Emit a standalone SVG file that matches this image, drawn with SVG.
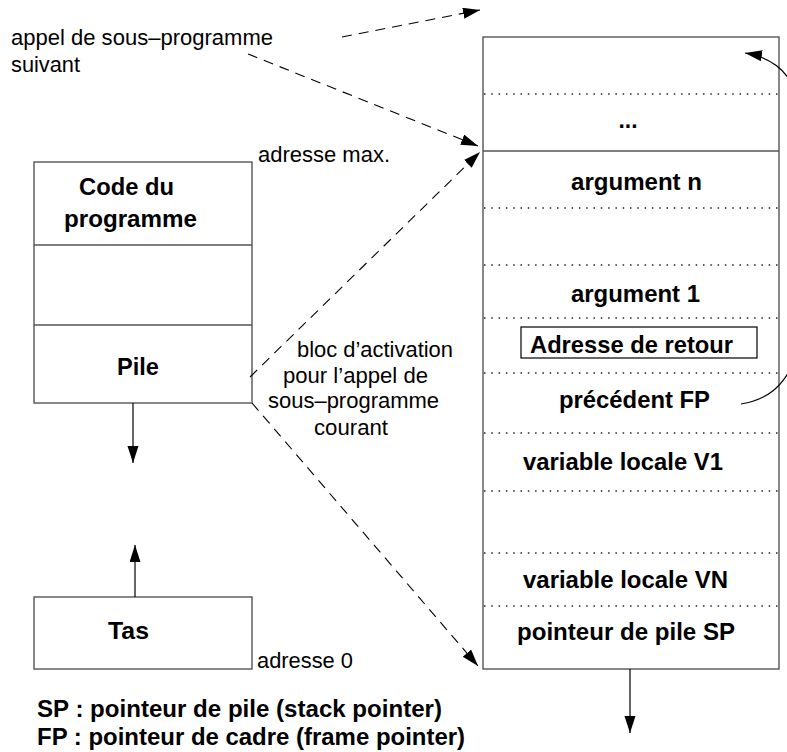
<svg xmlns="http://www.w3.org/2000/svg" width="787" height="752" viewBox="0 0 787 752">
<style>
.box{fill:#fff;stroke:#555;stroke-width:1.4}
.sep{stroke:#555;stroke-width:1.4}
.dot{stroke:#222;stroke-width:1.3;stroke-dasharray:1.5 5.8}
.r{font-family:"Liberation Sans",Arial,sans-serif;font-size:22px;fill:#000}
.b{font-family:"Liberation Sans",Arial,sans-serif;font-size:24px;font-weight:bold;fill:#000}
.m{text-anchor:middle}
.arr{fill:none;stroke:#000;stroke-width:1.2}
.dash{fill:none;stroke:#000;stroke-width:1.1;stroke-dasharray:10 7}
</style>
<defs>
<marker id="ah" markerUnits="userSpaceOnUse" markerWidth="18" markerHeight="12" refX="17" refY="5.5" orient="auto">
<path d="M0,0 L17,5.5 L0,11 Z" fill="#000"/>
</marker>
</defs>

<g id="memory">
<rect class="box" x="34" y="162" width="218" height="241"/>
<line class="sep" x1="34" y1="245" x2="252" y2="245"/>
<line class="sep" x1="34" y1="325" x2="252" y2="325"/>
<text class="b m" x="126.5" y="195" textLength="95" lengthAdjust="spacingAndGlyphs">Code du</text>
<text class="b m" x="130.5" y="227" textLength="133" lengthAdjust="spacingAndGlyphs">programme</text>
<text class="b m" x="138" y="375" textLength="42" lengthAdjust="spacingAndGlyphs">Pile</text>
</g>

<g id="tas">
<rect class="box" x="34" y="597" width="218" height="72"/>
<text class="b m" x="128.5" y="639" textLength="41" lengthAdjust="spacingAndGlyphs">Tas</text>
</g>

<g id="stack">
<rect class="box" x="483" y="37" width="296" height="632"/>
<line class="sep" x1="483" y1="151" x2="779" y2="151"/>
<line class="dot" x1="484" y1="94" x2="778" y2="94"/>
<line class="dot" x1="484" y1="208" x2="778" y2="208"/>
<line class="dot" x1="484" y1="265" x2="778" y2="265"/>
<line class="dot" x1="484" y1="318" x2="778" y2="318"/>
<line class="dot" x1="484" y1="373" x2="778" y2="373"/>
<line class="dot" x1="484" y1="433" x2="778" y2="433"/>
<line class="dot" x1="484" y1="491" x2="778" y2="491"/>
<line class="dot" x1="484" y1="553" x2="778" y2="553"/>
<line class="dot" x1="484" y1="606" x2="778" y2="606"/>
<text class="b m" x="628" y="128" textLength="19" lengthAdjust="spacingAndGlyphs">...</text>
<text class="b m" x="636.5" y="190" textLength="131" lengthAdjust="spacingAndGlyphs">argument n</text>
<text class="b m" x="635.5" y="302" textLength="129" lengthAdjust="spacingAndGlyphs">argument 1</text>
<rect x="521" y="327" width="236" height="31" fill="none" stroke="#000" stroke-width="1.2"/>
<text class="b m" x="631.5" y="353" textLength="203" lengthAdjust="spacingAndGlyphs">Adresse de retour</text>
<text class="b m" x="634.5" y="408" textLength="151" lengthAdjust="spacingAndGlyphs">précédent FP</text>
<text class="b m" x="623" y="470" textLength="200" lengthAdjust="spacingAndGlyphs">variable locale V1</text>
<text class="b m" x="625.5" y="588" textLength="205" lengthAdjust="spacingAndGlyphs">variable locale VN</text>
<text class="b m" x="626" y="640" textLength="218" lengthAdjust="spacingAndGlyphs">pointeur de pile SP</text>
</g>

<g id="labels">
<text class="r" x="11" y="45" textLength="262" lengthAdjust="spacingAndGlyphs">appel de sous–programme</text>
<text class="r" x="11" y="72" textLength="69" lengthAdjust="spacingAndGlyphs">suivant</text>
<text class="r" x="258" y="162" textLength="132" lengthAdjust="spacingAndGlyphs">adresse max.</text>
<text class="r" x="297" y="357" textLength="156" lengthAdjust="spacingAndGlyphs">bloc d’activation</text>
<text class="r" x="283" y="383" textLength="145" lengthAdjust="spacingAndGlyphs">pour l’appel de</text>
<text class="r" x="268" y="408" textLength="171" lengthAdjust="spacingAndGlyphs">sous–programme</text>
<text class="r" x="314" y="435" textLength="74" lengthAdjust="spacingAndGlyphs">courant</text>
<text class="r" x="257" y="668" textLength="96" lengthAdjust="spacingAndGlyphs">adresse 0</text>
<text class="b" x="37" y="717" textLength="405" lengthAdjust="spacingAndGlyphs">SP : pointeur de pile (stack pointer)</text>
<text class="b" x="37" y="745" textLength="428" lengthAdjust="spacingAndGlyphs">FP : pointeur de cadre (frame pointer)</text>
</g>

<g id="connectors">
<line class="arr" x1="133" y1="403" x2="133" y2="463" marker-end="url(#ah)"/>
<line class="arr" x1="135" y1="597" x2="135" y2="545" marker-end="url(#ah)"/>
<line class="arr" x1="630" y1="669" x2="630" y2="733" marker-end="url(#ah)"/>
<line class="dash" x1="342" y1="37" x2="480" y2="10" marker-end="url(#ah)"/>
<line class="dash" x1="248" y1="54" x2="478" y2="146" marker-end="url(#ah)"/>
<line class="dash" x1="250" y1="377" x2="480" y2="152" marker-end="url(#ah)"/>
<line class="dash" x1="252" y1="403" x2="478" y2="666" marker-end="url(#ah)"/>
<path class="arr" d="M741 404 C766 400 782 388 794 362 L800 110 C795 75 775 58 745 53" marker-end="url(#ah)"/>
</g>
</svg>
